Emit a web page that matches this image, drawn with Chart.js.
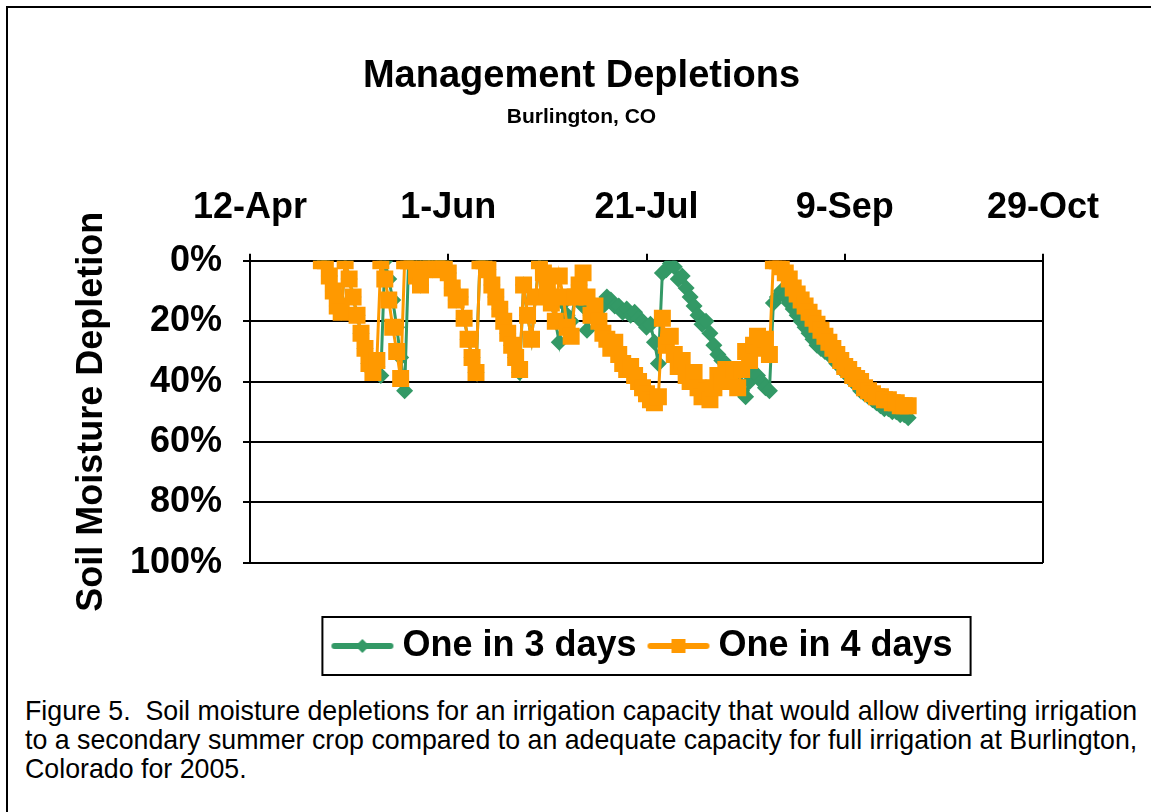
<!DOCTYPE html>
<html>
<head>
<meta charset="utf-8">
<script src="https://cdn.jsdelivr.net/npm/chart.js@4.4.1/dist/chart.umd.min.js"></script>
<style>
  body { margin: 0; background: #fff; width: 1151px; height: 812px; overflow: hidden; position: relative; font-family: "Liberation Sans", Arial, sans-serif; }
  #frame { position: absolute; left: 6px; top: 6px; width: 1170px; height: 830px; border: 2px solid #000; }
  #wrap { position: absolute; left: 0; top: 0; width: 1151px; height: 680px; }
  #caption { position: absolute; left: 25px; top: 697px; font-size: 26.75px; line-height: 29px; color: #000; white-space: nowrap; }
</style>
</head>
<body>
<div id="frame"></div>
<div id="wrap"><canvas id="depletionChart"></canvas></div>
<div id="caption">Figure 5.&nbsp; Soil moisture depletions for an irrigation capacity that would allow diverting irrigation<br>to a secondary summer crop compared to an adequate capacity for full irrigation at Burlington,<br>Colorado for 2005.</div>
<script>
// dias contados desde el 12-Apr (primer punto = 30-Apr)
const startDay = 18;
const tickLabels = ['12-Apr', '1-Jun', '21-Jul', '9-Sep', '29-Oct'];

// agotamiento de humedad del suelo (%), un valor por dia
const oneIn3Days = [
  0, 0, 5, 10, 15, 17, 0, 6, 12, 18, 24, 29, 34, 37, 35, 38, 0, 6, 13, 22,
  32, 43, 0, 0, 5, 8, 0, 0, 3, 0, 0, 0, 4, 9, 13, 12, 19, 26, 32, 37,
  0, 0, 3, 8, 12, 16, 20, 24, 28, 32, 37, 8, 18, 26, 12, 0, 4, 9, 14, 20,
  27, 14, 18, 20, 12, 8, 15, 23, 18, 15, 20, 15, 12, 13, 15, 15, 17, 16, 18, 17,
  19, 20, 22, 21, 27, 34, 4, 3, 1, 2, 6, 5, 9, 12, 15, 18, 21, 20, 24, 28,
  31, 33, 34, 36, 38, 40, 43, 45, 40, 37, 38, 40, 42, 43, 14, 12, 10, 12, 14, 16,
  18, 20, 22, 24, 26, 28, 29, 30, 31, 32, 34, 35, 37, 38, 40, 41, 43, 44, 45, 46,
  47, 48, 49, 49, 50, 50, 51, 51, 52
];
const oneIn4Days = [
  0, 0, 5, 10, 15, 17, 0, 6, 12, 18, 24, 29, 34, 37, 33, 0, 6, 13, 22, 30,
  39, 0, 0, 0, 5, 8, 0, 0, 3, 0, 0, 0, 4, 9, 13, 12, 19, 26, 32, 37,
  0, 0, 3, 8, 12, 16, 20, 24, 28, 32, 36, 8, 18, 26, 12, 0, 4, 9, 14, 20,
  5, 12, 22, 25, 12, 8, 4, 12, 18, 15, 20, 24, 26, 29, 27, 31, 34, 36, 35, 38,
  40, 42, 44, 46, 47, 45, 19, 28, 25, 31, 35, 33, 38, 40, 37, 42, 45, 43, 46, 42,
  38, 40, 36, 40, 36, 42, 36, 30, 33, 28, 25, 29, 26, 31, 0, 0, 2, 4, 6, 9,
  11, 13, 15, 17, 19, 21, 23, 25, 27, 29, 31, 33, 35, 36, 38, 39, 40, 42, 43, 44,
  45, 45, 46, 46, 47, 47, 48, 48, 48
];

const green = 'rgb(51, 153, 102)';
const orange = 'rgb(255, 153, 0)';
const font = 'Liberation Sans, Arial, sans-serif';

function toPoints(values) {
  return values.map((v, i) => ({ x: startDay + i, y: v }));
}

// muestra de la leyenda: linea con marcador
function legendSample(color, diamond) {
  const c = document.createElement('canvas');
  c.width = 64; c.height = 20;
  const g = c.getContext('2d');
  g.strokeStyle = color; g.fillStyle = color;
  g.lineWidth = 6; g.lineCap = 'round';
  g.beginPath(); g.moveTo(4, 10); g.lineTo(60, 10); g.stroke();
  g.beginPath();
  if (diamond) {
    g.moveTo(32, 3); g.lineTo(39, 10); g.lineTo(32, 17); g.lineTo(25, 10);
  } else {
    g.rect(25, 3, 14, 14);
  }
  g.fill();
  return c;
}
const samples = [legendSample(green, true), legendSample(orange, false)];

// marco alrededor de la leyenda
const legendFrame = {
  id: 'legendFrame',
  afterDraw(chart) {
    const boxes = chart.legend.legendHitBoxes;
    if (!boxes || !boxes.length) return;
    const first = boxes[0], last = boxes[boxes.length - 1];
    const left = first.left - 18;
    const right = last.left + last.width + 18;
    const ctx = chart.ctx;
    ctx.save();
    ctx.strokeStyle = '#000';
    ctx.lineWidth = 2;
    ctx.strokeRect(left, first.top - 11, right - left, first.height + 22);
    ctx.restore();
  }
};

Chart.defaults.color = '#000';
Chart.defaults.font.family = font;

const ctx = document.getElementById('depletionChart').getContext('2d');
new Chart(ctx, {
  type: 'line',
  data: {
    datasets: [{
      label: 'One in 3 days',
      data: toPoints(oneIn3Days),
      borderColor: green,
      backgroundColor: green,
      borderWidth: 3,
      pointStyle: 'rectRot',
      pointRadius: 8.5,
      pointBorderWidth: 0,
      tension: 0,
      order: 1
    }, {
      label: 'One in 4 days',
      data: toPoints(oneIn4Days),
      borderColor: orange,
      backgroundColor: orange,
      borderWidth: 3,
      pointStyle: 'rect',
      pointRadius: 12,
      pointBorderWidth: 0,
      tension: 0,
      order: 0
    }]
  },
  options: {
    responsive: true,
    maintainAspectRatio: false,
    animation: false,
    layout: { padding: { left: 12, right: 0, top: 0, bottom: 6 } },
    scales: {
      x: {
        type: 'linear',
        position: 'top',
        min: 0,
        max: 200,
        afterFit: (scale) => { scale.height = 80; },
        ticks: {
          stepSize: 50,
          padding: 24,
          maxRotation: 0,
          font: { size: 36, weight: 'bold' },
          callback: (v) => tickLabels[v / 50]
        },
        grid: { drawOnChartArea: false, tickLength: 7, tickColor: '#000', lineWidth: 2 },
        border: { color: '#000', width: 2 }
      },
      y: {
        reverse: true,
        min: 0,
        max: 100,
        afterFit: (scale) => { scale.width = 238; },
        ticks: {
          stepSize: 20,
          padding: 21,
          font: { size: 36, weight: 'bold' },
          callback: (v) => v + '%'
        },
        grid: { color: '#000', lineWidth: 2, tickLength: 7, tickColor: '#000' },
        border: { color: '#000', width: 2 },
        title: {
          display: true,
          text: 'Soil Moisture Depletion',
          font: { size: 36, weight: 'bold' },
          padding: { top: 58, bottom: 0 }
        }
      },
      y2: {
        position: 'right',
        afterFit: (scale) => { scale.width = 108; },
        ticks: { display: false },
        grid: { display: false },
        border: { color: '#000', width: 2 }
      }
    },
    plugins: {
      title: {
        display: true,
        text: 'Management Depletions',
        font: { size: 38, weight: 'bold' },
        padding: { top: 54, bottom: 0 }
      },
      subtitle: {
        display: true,
        text: 'Burlington, CO',
        font: { size: 21, weight: 'bold' },
        padding: { top: 5, bottom: 51 }
      },
      legend: {
        position: 'bottom',
        fullSize: false,
        title: { display: true, text: '', font: { size: 1 }, padding: { top: 44, bottom: 0 } },
        labels: {
          usePointStyle: true,
          pointStyleWidth: 44,
          padding: 20,
          font: { size: 36, weight: 'bold' },
          generateLabels(chart) {
            const items = Chart.defaults.plugins.legend.labels.generateLabels(chart);
            items.forEach(it => { it.pointStyle = samples[it.datasetIndex]; });
            return items.sort((a, b) => a.datasetIndex - b.datasetIndex);
          }
        }
      },
      tooltip: { enabled: false }
    }
  },
  plugins: [legendFrame]
});
</script>
</body>
</html>
